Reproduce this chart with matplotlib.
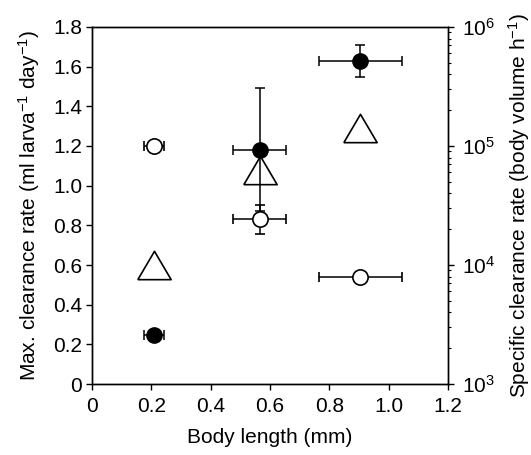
import matplotlib
matplotlib.use('Agg')
import matplotlib.pyplot as plt
from matplotlib.ticker import FixedLocator, FuncFormatter, LogLocator, NullFormatter

plt.rcParams['font.family'] = ['Liberation Sans', 'DejaVu Sans']
plt.rcParams['mathtext.fontset'] = 'custom'
plt.rcParams['mathtext.rm'] = 'Liberation Sans'
plt.rcParams['mathtext.it'] = 'Liberation Sans:italic'
plt.rcParams['mathtext.bf'] = 'Liberation Sans:bold'
plt.rcParams['font.size'] = 15

# body length (mm) and errors
length = [0.21, 0.565, 0.905]
length_err = [0.034, 0.09, 0.14]

# max clearance rate, filled circles
filled_rate = [0.245, 1.18, 1.63]
filled_err = [0.0, 0.31, 0.08]

# max clearance rate, open circles
open_rate = [1.2, 0.83, 0.54]
open_err = [0.0, 0.075, 0.0]

# specific clearance rate (body volume h^-1), triangles
specific_rate = [1.0e4, 6.3e4, 1.43e5]

x_ticks = [0, 0.2, 0.4, 0.6, 0.8, 1.0, 1.2]
y_ticks = [0, 0.2, 0.4, 0.6, 0.8, 1.0, 1.2, 1.4, 1.6, 1.8]

fig = plt.figure(figsize=(5.31, 4.55), dpi=100)
ax = fig.add_axes([0.1733, 0.156, 0.6704, 0.7847])
ax2 = ax.twinx()

ax.errorbar(length, open_rate, xerr=length_err, yerr=open_err, fmt='o',
            ms=11, mfc='white', mec='black', mew=1.2, color='black',
            ecolor='black', elinewidth=1.1, capsize=3.5, capthick=1.1, zorder=3)
ax.errorbar(length, filled_rate, xerr=length_err, yerr=filled_err, fmt='o',
            ms=11, mfc='black', mec='black', color='black',
            ecolor='black', elinewidth=1.1, capsize=3.5, capthick=1.1, zorder=4)

tri = [(-1, -0.85), (1, -0.85), (0, 0.85), (-1, -0.85)]
ax2.plot(length, specific_rate, linestyle='none', marker=tri, ms=24,
         mfc='none', mec='black', mew=1.2)

def fmt(v, pos):
    return '0' if v == 0 else '%.1f' % v

ax.set_xlim(0, 1.2)
ax.set_ylim(0, 1.8)
ax.xaxis.set_major_locator(FixedLocator(x_ticks))
ax.yaxis.set_major_locator(FixedLocator(y_ticks))
ax.xaxis.set_major_formatter(FuncFormatter(fmt))
ax.yaxis.set_major_formatter(FuncFormatter(fmt))
ax.tick_params(direction='out', length=4, width=1, labelsize=15)
ax.tick_params(axis='x', pad=5)
ax.tick_params(axis='y', pad=3)
ax.set_xlabel('Body length (mm)', fontsize=15, labelpad=9)
ax.set_ylabel('Max. clearance rate (ml larva$^{-1}$ day$^{-1}$)', fontsize=15, labelpad=8)

ax2.set_yscale('log')
ax2.set_ylim(1e3, 1e6)
ax2.yaxis.set_major_locator(LogLocator(base=10, numticks=10))
ax2.yaxis.set_minor_locator(LogLocator(base=10, subs=range(2, 10), numticks=10))
ax2.yaxis.set_minor_formatter(NullFormatter())
ax2.tick_params(which='major', direction='out', length=4, width=1, labelsize=15, pad=6)
ax2.tick_params(which='minor', direction='out', length=2.5, width=0.8)
ax2.set_ylabel('Specific clearance rate (body volume h$^{-1}$)', fontsize=15, labelpad=8)

for a in (ax, ax2):
    for s in a.spines.values():
        s.set_linewidth(1)

fig.savefig('out.png', dpi=100)
